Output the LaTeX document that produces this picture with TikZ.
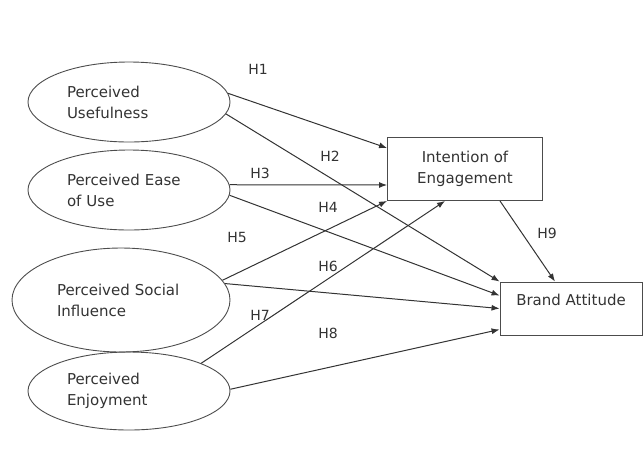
\documentclass[tikz,border=0pt]{standalone}
\usepackage{fontspec}
\setmainfont{DejaVu Sans}
\usetikzlibrary{shapes.geometric,arrows.meta,positioning}

\begin{document}
\begin{tikzpicture}[x=1pt, y=-1pt,
    construct/.style={draw=black!70, line width=0.9pt, ellipse, inner sep=0pt, minimum width=202pt, minimum height=80pt, text width=124pt, align=left, font=\fontsize{15}{21}\selectfont, text=black!80},
    box/.style={draw=black!70, line width=0.9pt, inner sep=0pt, align=center, font=\fontsize{15}{21}\selectfont, text=black!80},
    hyp/.style={font=\fontsize{14}{16}\selectfont, text=black!80},
    arrow/.style={-{Latex[length=8pt,width=6pt]}, draw=black!80, line width=1pt}
]
    \useasboundingbox (0,0) rectangle (644,459);

    \node[construct] (pu) at (129,102) {Perceived\\Usefulness};
    \node[construct] (peou) at (129,190) {Perceived Ease\\of Use};
    \node[construct, minimum width=218pt, minimum height=104pt, text width=128pt] (psi) at (121,300) {Perceived Social\\Influence};
    \node[construct, minimum height=78pt] (pe) at (129,391) {Perceived\\Enjoyment};
    \node[box, minimum width=155pt, minimum height=63pt] (ioe) at (465,169) {Intention of\\Engagement};
    \node[box, minimum width=142pt, minimum height=53pt, text height=11pt, text depth=18pt] (ba) at (571,308.5) {Brand Attitude};

    \node[hyp] (h1) at (258,69) {H1};
    \node[hyp] (h2) at (330,156) {H2};
    \node[hyp] (h3) at (260,173) {H3};
    \node[hyp] (h4) at (328,207) {H4};
    \node[hyp] (h5) at (237,237) {H5};
    \node[hyp] (h6) at (328,266) {H6};
    \node[hyp] (h7) at (260,315) {H7};
    \node[hyp] (h8) at (328,333) {H8};
    \node[hyp] (h9) at (547,233) {H9};

    \draw[arrow] (pu.5) -- ([yshift=21pt]ioe.west);
    \draw[arrow] (pu.-7) -- (ba.north west);
    \draw[arrow] (peou.3) -- ([yshift=-16pt]ioe.west);
    \draw[arrow] (peou.-3) -- ([yshift=13pt]ba.west);
    \draw[arrow] (psi.11) -- (ioe.south west);
    \draw[arrow] (psi.9) -- (ba.west);
    \draw[arrow] (pe.21) -- ([xshift=-20pt]ioe.south);
    \draw[arrow] (pe.1) -- ([yshift=-21pt]ba.west);
    \draw[arrow] ([xshift=35pt]ioe.south) -- ([xshift=-16pt]ba.north);
\end{tikzpicture}
\end{document}
